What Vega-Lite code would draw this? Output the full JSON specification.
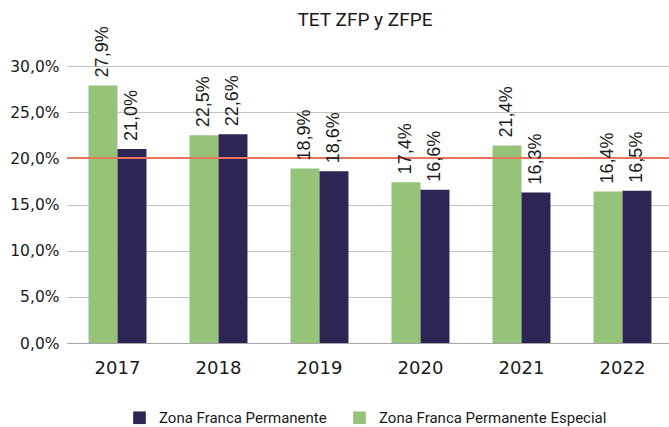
{
  "$schema": "https://vega.github.io/schema/vega-lite/v6.json",
  "width": 602,
  "height": 277,
  "autosize": {"type": "none"},
  "padding": {"left": 67, "top": 66, "right": 0, "bottom": 84},
  "background": "white",
  "title": {
    "text": "TET ZFP y ZFPE",
    "font": "Roboto",
    "fontSize": 19,
    "fontWeight": "normal",
    "color": "#1a1a1a",
    "anchor": "middle",
    "frame": "group",
    "dy": 8,
    "dx": -3
  },
  "data": {
    "values": [
      {"year": "2017", "serie": "Zona Franca Permanente Especial", "value": 0.279},
      {"year": "2017", "serie": "Zona Franca Permanente", "value": 0.210},
      {"year": "2018", "serie": "Zona Franca Permanente Especial", "value": 0.225},
      {"year": "2018", "serie": "Zona Franca Permanente", "value": 0.226},
      {"year": "2019", "serie": "Zona Franca Permanente Especial", "value": 0.189},
      {"year": "2019", "serie": "Zona Franca Permanente", "value": 0.186},
      {"year": "2020", "serie": "Zona Franca Permanente Especial", "value": 0.174},
      {"year": "2020", "serie": "Zona Franca Permanente", "value": 0.166},
      {"year": "2021", "serie": "Zona Franca Permanente Especial", "value": 0.214},
      {"year": "2021", "serie": "Zona Franca Permanente", "value": 0.163},
      {"year": "2022", "serie": "Zona Franca Permanente Especial", "value": 0.164},
      {"year": "2022", "serie": "Zona Franca Permanente", "value": 0.165}
    ]
  },
  "layer": [
    {
      "mark": {"type": "bar"},
      "encoding": {
        "x": {
          "field": "year",
          "type": "nominal",
          "scale": {"range": [0, 606], "paddingInner": 0.426, "paddingOuter": 0.213},
          "axis": {
            "title": null,
            "labelAngle": 0,
            "ticks": false,
            "domain": true,
            "domainColor": "#A6A6A6",
            "domainWidth": 1,
            "labelFont": "DejaVu Sans",
            "labelFontSize": 18,
            "labelColor": "#1a1a1a",
            "labelPadding": 16
          }
        },
        "xOffset": {
          "field": "serie",
          "sort": ["Zona Franca Permanente Especial", "Zona Franca Permanente"]
        },
        "y": {
          "field": "value",
          "type": "quantitative",
          "scale": {"domain": [0, 0.3], "nice": false},
          "axis": {
            "title": null,
            "values": [0, 0.05, 0.1, 0.15, 0.2, 0.25, 0.3],
            "format": ".1%",
            "domain": false,
            "ticks": false,
            "grid": true,
            "gridColor": "#C4C4C4",
            "gridWidth": 1,
            "labelFont": "DejaVu Sans",
            "labelFontSize": 15.5,
            "labelColor": "#1a1a1a",
            "labelPadding": 8
          }
        },
        "color": {
          "field": "serie",
          "type": "nominal",
          "scale": {
            "domain": ["Zona Franca Permanente", "Zona Franca Permanente Especial"],
            "range": ["#2D2654", "#96C37A"]
          },
          "legend": {
            "title": null,
            "orient": "none",
            "direction": "horizontal",
            "legendX": 65,
            "legendY": 344,
            "padding": 0,
            "symbolType": "square",
            "symbolSize": 160,
            "symbolStrokeWidth": 0,
            "symbolOpacity": 1,
            "labelFont": "Roboto",
            "labelFontSize": 15,
            "labelColor": "#1a1a1a",
            "labelOffset": 12,
            "labelLimit": 400,
            "columnPadding": 25
          }
        }
      }
    },
    {
      "mark": {"type": "rule", "color": "#E8745E", "strokeWidth": 1.5},
      "encoding": {"y": {"datum": 0.2}}
    },
    {
      "mark": {
        "type": "text",
        "angle": 270,
        "align": "left",
        "baseline": "middle",
        "dx": 8,
        "font": "Liberation Sans",
        "fontSize": 18,
        "color": "#1a1a1a"
      },
      "encoding": {
        "x": {"field": "year", "type": "nominal"},
        "xOffset": {
          "field": "serie",
          "sort": ["Zona Franca Permanente Especial", "Zona Franca Permanente"]
        },
        "y": {"field": "value", "type": "quantitative"},
        "text": {"field": "value", "type": "quantitative", "format": ".1%"}
      }
    }
  ],
  "config": {
    "view": {"stroke": null},
    "locale": {
      "number": {
        "decimal": ",",
        "thousands": ".",
        "grouping": [3],
        "currency": ["", " €"]
      }
    }
  }
}
